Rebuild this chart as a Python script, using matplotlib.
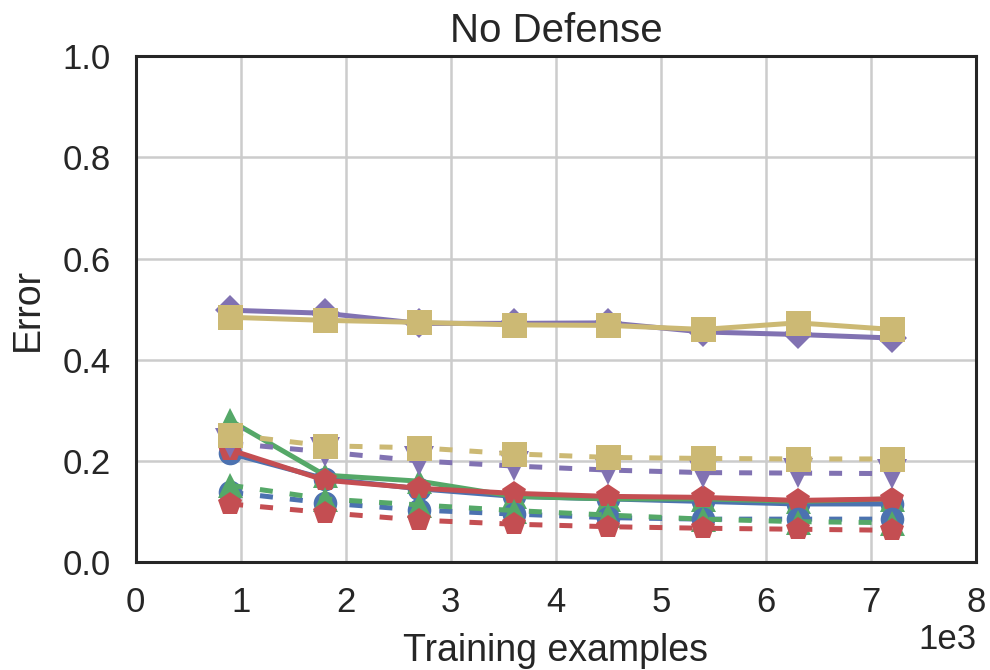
import matplotlib
matplotlib.use("Agg")
import matplotlib.pyplot as plt

plt.rcParams['font.family'] = ['Liberation Sans', 'DejaVu Sans']

x = [900, 1800, 2700, 3600, 4500, 5400, 6300, 7200]

solid_blue = [0.215, 0.165, 0.145, 0.130, 0.125, 0.120, 0.115, 0.115]
solid_green = [0.280, 0.172, 0.160, 0.130, 0.125, 0.125, 0.120, 0.125]
solid_red = [0.222, 0.162, 0.146, 0.136, 0.130, 0.128, 0.122, 0.125]
solid_purple = [0.498, 0.492, 0.472, 0.472, 0.473, 0.455, 0.450, 0.443]
solid_yellow = [0.484, 0.478, 0.474, 0.469, 0.468, 0.460, 0.473, 0.460]

dash_blue = [0.138, 0.117, 0.103, 0.095, 0.088, 0.085, 0.085, 0.085]
dash_green = [0.152, 0.125, 0.113, 0.102, 0.093, 0.085, 0.080, 0.078]
dash_red = [0.115, 0.098, 0.083, 0.075, 0.070, 0.067, 0.065, 0.063]
dash_purple = [0.235, 0.218, 0.200, 0.190, 0.182, 0.177, 0.176, 0.175]
dash_yellow = [0.252, 0.230, 0.226, 0.214, 0.207, 0.205, 0.204, 0.204]

colors = {'blue': '#4C72B0', 'green': '#55A868', 'red': '#C44E52',
          'purple': '#8172B2', 'yellow': '#CCB974'}

fig = plt.figure(figsize=(9.9, 6.7), dpi=100)
ax = fig.add_axes([0.137, 0.161, 0.849, 0.755])

solid = [(solid_blue, 'blue', 'o', 17), (solid_green, 'green', '^', 18),
         (solid_red, 'red', 'p', 18), (solid_purple, 'purple', 'D', 15.5),
         (solid_yellow, 'yellow', 's', 18)]
dashed = [(dash_blue, 'blue', 'o', 17), (dash_green, 'green', '^', 18),
          (dash_red, 'red', 'p', 18), (dash_purple, 'purple', 'v', 21),
          (dash_yellow, 'yellow', 's', 18)]

for vals, c, m, ms in solid:
    ax.plot(x, vals, color=colors[c], marker=m, markersize=ms, lw=3.6,
            markeredgewidth=0, zorder=3)
for vals, c, m, ms in dashed:
    ax.plot(x, vals, color=colors[c], marker=m, markersize=ms, lw=3.6,
            dashes=(2.6, 3.4), markeredgewidth=0, zorder=3)

ax.set_xlim(0, 8000)
ax.set_ylim(0, 1.0)
ax.set_xticks([0, 1000, 2000, 3000, 4000, 5000, 6000, 7000, 8000])
ax.set_yticks([0.0, 0.2, 0.4, 0.6, 0.8, 1.0])
ax.ticklabel_format(axis='x', style='sci', scilimits=(3, 3))
ax.xaxis.get_offset_text().set_fontsize(25)
ax.xaxis.get_offset_text().set_color('#262626')

ax.grid(True, color='#cccccc', lw=1.8)
ax.set_axisbelow(True)
for s in ax.spines.values():
    s.set_color('#262626')
    s.set_linewidth(2.2)
ax.tick_params(axis='y', length=0, labelsize=25, pad=18, colors='#262626')
ax.tick_params(axis='x', length=0, labelsize=25, pad=17, colors='#262626')

ax.set_title('No Defense', fontsize=29, color='#262626', pad=10)
ax.set_xlabel('Training examples', fontsize=27, color='#262626', labelpad=10)
ax.set_ylabel('Error', fontsize=27, color='#262626', labelpad=12)

fig.savefig('out.png', dpi=100)
